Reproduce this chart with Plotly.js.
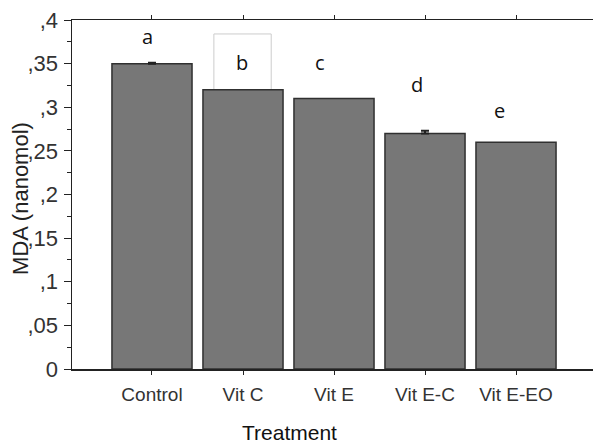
<!DOCTYPE html>
<html>
<head>
<meta charset="utf-8">
<script src="https://cdn.plot.ly/plotly-3.0.1.min.js"></script>
<style>html,body{margin:0;padding:0;background:#fff}#chart{width:593px;height:445px}</style>
</head>
<body>
<div id="chart"></div>
<script>
const categories = ["Control", "Vit C", "Vit E", "Vit E-C", "Vit E-EO"];
const mdaValues = [0.35, 0.32, 0.31, 0.27, 0.26];
const mdaErrors = [0.001, 0, 0, 0.003, 0];
const groupLetters = ["a", "b", "c", "d", "e"];
const yTickVals = [0, 0.05, 0.1, 0.15, 0.2, 0.25, 0.3, 0.35, 0.4];
const yTickText = ["0", ",05", ",1", ",15", ",2", ",25", ",3", ",35", ",4"];
const yTitle = "MDA (nanomol)";
const xTitle = "Treatment";

// letter placement offsets (layout only)
const letterDx = [-0.05, -0.01, -0.15, -0.09, -0.18];
const letterDy = [0.031, 0.031, 0.041, 0.056, 0.036];

const xIdx = categories.map((c, i) => i);
const errIdx = xIdx.filter(i => mdaErrors[i] > 0);

const barTrace = {
  type: "bar",
  x: xIdx,
  y: mdaValues,
  width: 0.88,
  marker: {color: "#777777", line: {color: "#303030", width: 1.5}},
  hoverinfo: "skip"
};

const errTrace = {
  type: "scatter", mode: "markers",
  x: errIdx, y: errIdx.map(i => mdaValues[i]),
  marker: {size: 1, opacity: 0},
  error_y: {type: "data", symmetric: false, array: errIdx.map(i => mdaErrors[i]), arrayminus: errIdx.map(() => 0), color: "#222222", thickness: 2, width: 4},
  hoverinfo: "skip"
};

const annotations = groupLetters.map((l, i) => ({
  x: i + letterDx[i], y: mdaValues[i] + letterDy[i], xref: "x", yref: "y",
  text: l, showarrow: false, font: {family: "Open Sans, sans-serif", size: 20, color: "#111"},
  xanchor: "center", yanchor: "middle"
}));
annotations.push({
  xref: "paper", yref: "paper", x: -0.098, y: 0.49,
  text: yTitle, textangle: -90, showarrow: false,
  xanchor: "center", yanchor: "middle",
  font: {family: "Arial", size: 22, color: "#222"}
});
annotations.push({
  xref: "paper", yref: "paper", x: 0.418, y: -0.182,
  text: xTitle, showarrow: false,
  xanchor: "center", yanchor: "middle",
  font: {family: "Arial", size: 21, color: "#111"}
});

const layout = {
  width: 593, height: 445,
  margin: {l: 72, r: 0, t: 20, b: 76},
  paper_bgcolor: "#fff", plot_bgcolor: "#fff",
  showlegend: false,
  bargap: 0,
  font: {family: "Arial"},
  xaxis: {
    range: [-0.879, 4.846],
    tickvals: xIdx,
    ticktext: categories,
    ticks: "outside", ticklen: 4, tickwidth: 1, tickcolor: "#222",
    ticklabelstandoff: 4,
    showline: true, linecolor: "#222", linewidth: 1.5, mirror: "ticks",
    showgrid: false, zeroline: false,
    tickfont: {family: "Arial", size: 19, color: "#333"}
  },
  yaxis: {
    range: [0, 0.4],
    tickvals: yTickVals, ticktext: yTickText,
    ticks: "outside", ticklen: 7, tickwidth: 1, tickcolor: "#222",
    ticklabelstandoff: 1,
    minor: {dtick: 0.025, ticks: "outside", ticklen: 4, tickcolor: "#222", showgrid: false},
    showline: true, linecolor: "#222", linewidth: 1.5,
    showgrid: false, zeroline: false,
    tickfont: {family: "Arial", size: 22, color: "#333"}
  },
  annotations: annotations,
  shapes: [{
    type: "rect", xref: "x", yref: "y",
    x0: 0.68, x1: 1.31, y0: mdaValues[1], y1: 0.384,
    line: {color: "#cccccc", width: 1}, fillcolor: "rgba(0,0,0,0)", layer: "below"
  }]
};

Plotly.newPlot("chart", [barTrace, errTrace], layout, {staticPlot: true, displayModeBar: false});
</script>
</body>
</html>
